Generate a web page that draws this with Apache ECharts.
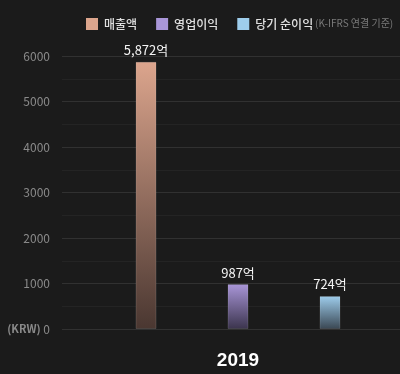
<!DOCTYPE html>
<html>
<head>
<meta charset="utf-8">
<script src="https://cdn.jsdelivr.net/npm/echarts@6/dist/echarts.min.js"></script>
<style>
html,body{margin:0;padding:0;background:#1b1b1b;}
#c{width:400px;height:374px;}
</style>
</head>
<body>
<div id="c"></div>
<script>
const categories = ['2019'];
const seriesNames = ['매출액', '영업이익', '당기 순이익'];
const sales = [5872];
const operatingProfit = [987];
const netProfit = [724];
const valueLabels = ['5,872억', '987억', '724억'];
const yTicks = [0, 1000, 2000, 3000, 4000, 5000, 6000];

const topColors = ['#dca58d', '#a996d8', '#9ecdec'];
const bottomColors = ['#4a3731', '#3b344d', '#3a4753'];

function grad(i) {
  return new echarts.graphic.LinearGradient(0, 0, 0, 1, [
    {offset: 0, color: topColors[i]},
    {offset: 1, color: bottomColors[i]}
  ]);
}

const dataSets = [sales, operatingProfit, netProfit];
const series = dataSets.map((d, i) => ({
  name: seriesNames[i],
  type: 'bar',
  xAxisIndex: 1,
  yAxisIndex: 1,
  data: d,
  barWidth: 21,
  barGap: '338%',
  itemStyle: {color: grad(i), borderColor: 'rgba(255,255,255,0.12)', borderWidth: 1},
  label: {
    show: true, position: 'top', distance: 5,
    formatter: () => valueLabels[i],
    color: '#f4f4f4', fontSize: 13,
    fontFamily: 'Noto Sans CJK KR'
  }
}));

const chart = echarts.init(document.getElementById('c'));
chart.setOption({
  backgroundColor: '#1b1b1b',
  animation: false,
  title: {
    text: '(K-IFRS 연결 기준)',
    left: 310, top: 13,
    textStyle: {color: '#7a7a7a', fontSize: 10, fontWeight: 'normal', fontFamily: 'Noto Sans CJK KR'}
  },
  legend: {
    left: 81, top: 13,
    itemWidth: 12, itemHeight: 12, itemGap: 19,
    icon: 'rect',
    textStyle: {color: '#e0e0e0', fontSize: 12, fontWeight: 500, fontFamily: 'Noto Sans CJK KR', padding: [0, 0, 0, 1]},
    data: seriesNames.map((n, i) => ({name: n, itemStyle: {color: topColors[i], borderWidth: 0}}))
  },
  grid: [
    {left: 62, right: 0, top: 56, bottom: 45, containLabel: false},
    {left: 76, right: 0, top: 56, bottom: 45, containLabel: false}
  ],
  xAxis: [
    {
      type: 'category', gridIndex: 0, data: categories, show: false
    },
    {
      type: 'category',
      gridIndex: 1,
      data: categories,
      axisLine: {show: false},
      axisTick: {show: false},
      axisLabel: {
        color: '#ffffff', fontSize: 19, fontWeight: 'bold',
        fontFamily: 'Liberation Sans Narrow, Liberation Sans, sans-serif',
        margin: 22
      }
    }
  ],
  yAxis: [
    {
      type: 'value',
      gridIndex: 0,
      min: 0, max: 6000, interval: 1000,
      axisLine: {show: false},
      axisTick: {show: false},
      splitLine: {lineStyle: {color: '#313131'}},
      minorTick: {show: false, splitNumber: 2},
      minorSplitLine: {show: true, lineStyle: {color: '#242424'}},
      axisLabel: {
        color: '#8a8a8a', fontSize: 12, margin: 12,
        fontFamily: 'Noto Sans CJK KR',
        formatter: v => v === 0 ? '{k|(KRW)} 0' : String(yTicks[yTicks.indexOf(v)]),
        rich: {k: {color: '#8a8a8a', fontSize: 11, fontWeight: 'bold', fontFamily: 'Noto Sans CJK KR'}}
      }
    },
    {
      type: 'value',
      gridIndex: 1,
      min: 0, max: 6000, interval: 1000,
      show: false,
      splitLine: {show: false}
    }
  ],
  series: series
});
</script>
</body>
</html>
